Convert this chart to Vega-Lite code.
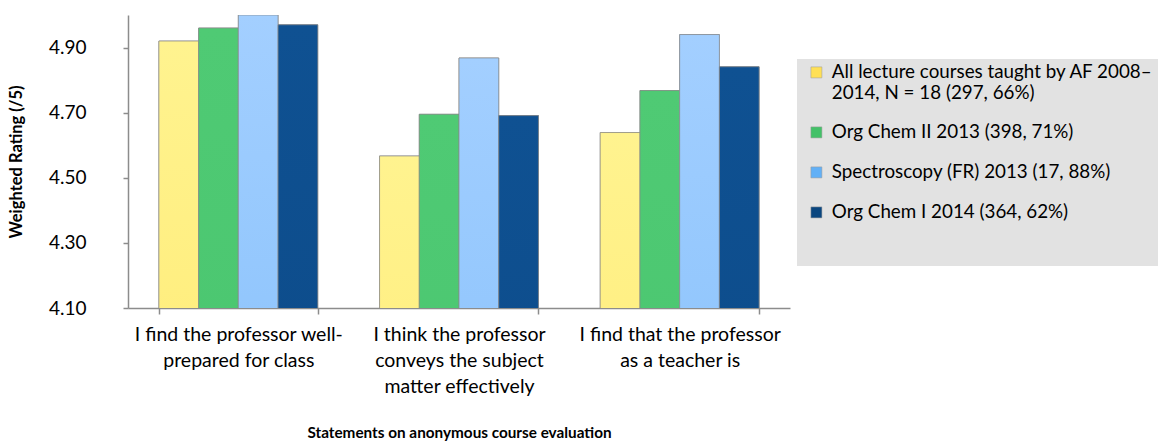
{
  "$schema": "https://vega.github.io/schema/vega-lite/v6.json",
  "autosize": "none",
  "width": 662,
  "height": 293,
  "padding": {"left": 128, "top": 15, "right": 371, "bottom": 136},
  "background": "white",
  "config": {
    "view": {"stroke": null},
    "font": "Lato"
  },
  "data": {
    "values": [
      {"statement": "I find the professor well-prepared for class", "course": "All lecture courses taught by AF 2008–2014, N = 18 (297, 66%)", "rating": 4.92},
      {"statement": "I find the professor well-prepared for class", "course": "Org Chem II 2013 (398, 71%)", "rating": 4.96},
      {"statement": "I find the professor well-prepared for class", "course": "Spectroscopy (FR) 2013 (17, 88%)", "rating": 5.00},
      {"statement": "I find the professor well-prepared for class", "course": "Org Chem I 2014 (364, 62%)", "rating": 4.97},
      {"statement": "I think the professor conveys the subject matter effectively", "course": "All lecture courses taught by AF 2008–2014, N = 18 (297, 66%)", "rating": 4.567},
      {"statement": "I think the professor conveys the subject matter effectively", "course": "Org Chem II 2013 (398, 71%)", "rating": 4.695},
      {"statement": "I think the professor conveys the subject matter effectively", "course": "Spectroscopy (FR) 2013 (17, 88%)", "rating": 4.868},
      {"statement": "I think the professor conveys the subject matter effectively", "course": "Org Chem I 2014 (364, 62%)", "rating": 4.691},
      {"statement": "I find that the professor as a teacher is", "course": "All lecture courses taught by AF 2008–2014, N = 18 (297, 66%)", "rating": 4.639},
      {"statement": "I find that the professor as a teacher is", "course": "Org Chem II 2013 (398, 71%)", "rating": 4.768},
      {"statement": "I find that the professor as a teacher is", "course": "Spectroscopy (FR) 2013 (17, 88%)", "rating": 4.94},
      {"statement": "I find that the professor as a teacher is", "course": "Org Chem I 2014 (364, 62%)", "rating": 4.841}
    ]
  },
  "encoding": {
    "x": {
      "field": "statement",
      "type": "nominal",
      "scale": {
        "domain": ["I find the professor well-prepared for class", "I think the professor conveys the subject matter effectively", "I find that the professor as a teacher is"],
        "paddingInner": 0.28,
        "paddingOuter": 0.14
      },
      "axis": {
        "title": "Statements on anonymous course evaluation",
        "titleFont": "Lato",
        "titleFontSize": 15.3,
        "titleFontWeight": "bold",
        "titleColor": "#000",
        "titlePadding": 30,
        "labelAngle": 0,
        "labelFont": "Lato",
        "labelFontSize": 19.5,
        "labelColor": "#000",
        "labelBaseline": "top",
        "labelLineHeight": 26,
        "labelPadding": 11,
        "labelLimit": 0,
        "labelExpr": "datum.value == 'I find the professor well-prepared for class' ? ['I find the professor well-', 'prepared for class'] : datum.value == 'I think the professor conveys the subject matter effectively' ? ['I think the professor', 'conveys the subject', 'matter effectively'] : datum.value == 'I find that the professor as a teacher is' ? ['I find that the professor', 'as a teacher is'] : ''",
        "domainColor": "#8c8c8c",
        "domainWidth": 1.5,
        "tickColor": "#8c8c8c",
        "tickWidth": 1.5,
        "tickSize": 6,
        "tickBand": "extent",
        "grid": false
      }
    },
    "xOffset": {
      "field": "course",
      "type": "nominal",
      "scale": {
        "domain": [
          "All lecture courses taught by AF 2008–2014, N = 18 (297, 66%)",
          "Org Chem II 2013 (398, 71%)",
          "Spectroscopy (FR) 2013 (17, 88%)",
          "Org Chem I 2014 (364, 62%)"
        ],
        "paddingInner": 0,
        "paddingOuter": 0
      }
    },
    "y": {
      "field": "rating",
      "type": "quantitative",
      "scale": {"domain": [4.1, 5.0], "nice": false, "zero": false},
      "axis": {
        "title": "Weighted Rating (/5)",
        "titleFont": "Lato",
        "titleFontSize": 16.5,
        "titleFontWeight": "bold",
        "titleColor": "#000",
        "titlePadding": 24,
        "values": [4.1, 4.3, 4.5, 4.7, 4.9],
        "format": ".2f",
        "labelFont": "Lato",
        "labelFontSize": 19,
        "labelColor": "#000",
        "labelPadding": 37,
        "domainColor": "#8c8c8c",
        "domainWidth": 1.5,
        "tickColor": "#8c8c8c",
        "tickWidth": 1.5,
        "tickSize": 5,
        "grid": false
      }
    }
  },
  "layer": [
    {
      "mark": {"type": "bar", "stroke": "#8a8a8a", "strokeWidth": 1, "strokeOpacity": 0.7, "clip": true},
      "encoding": {
        "color": {
          "field": "course",
          "type": "nominal",
          "scale": {
            "domain": [
              "All lecture courses taught by AF 2008–2014, N = 18 (297, 66%)",
              "Org Chem II 2013 (398, 71%)",
              "Spectroscopy (FR) 2013 (17, 88%)",
              "Org Chem I 2014 (364, 62%)"
            ],
            "range": ["#ffe055", "#43c168", "#62b0f6", "#0a467f"]
          },
          "legend": {
            "orient": "none",
            "legendX": 669,
            "legendY": 44,
            "title": " ",
            "titleOrient": "bottom",
            "titleFontSize": 10,
            "titlePadding": 30,
            "fillColor": "#e2e2e2",
            "strokeColor": null,
            "padding": 4,
            "symbolType": "square",
            "symbolSize": 121,
            "symbolOffset": 6,
            "symbolOpacity": 1,
            "symbolStrokeColor": "#9a9a9a",
            "symbolStrokeWidth": 0.5,
            "labelFont": "Lato",
            "labelFontSize": 18.8,
            "labelColor": "#000",
            "labelLineHeight": 20,
            "labelOffset": 6,
            "labelLimit": 0,
            "rowPadding": 20,
            "labelExpr": "datum.label == 'All lecture courses taught by AF 2008–2014, N = 18 (297, 66%)' ? ['All lecture courses taught by AF 2008–', '2014, N = 18 (297, 66%)'] : datum.label"
          }
        }
      }
    },
    {
      "transform": [{"filter": "datum.course == 'All lecture courses taught by AF 2008–2014, N = 18 (297, 66%)'"}],
      "mark": {
        "type": "bar", "clip": true, "stroke": "#8a8a8a", "strokeWidth": 1, "strokeOpacity": 0.7,
        "fill": {"gradient": "linear", "x1": 0, "y1": 0, "x2": 0, "y2": 1, "stops": [{"offset": 0, "color": "#fff38f"}, {"offset": 1, "color": "#ffd835"}]}
      }
    },
    {
      "transform": [{"filter": "datum.course == 'Org Chem II 2013 (398, 71%)'"}],
      "mark": {
        "type": "bar", "clip": true, "stroke": "#8a8a8a", "strokeWidth": 1, "strokeOpacity": 0.7,
        "fill": {"gradient": "linear", "x1": 0, "y1": 0, "x2": 0, "y2": 1, "stops": [{"offset": 0, "color": "#4fca74"}, {"offset": 1, "color": "#3ebb63"}]}
      }
    },
    {
      "transform": [{"filter": "datum.course == 'Spectroscopy (FR) 2013 (17, 88%)'"}],
      "mark": {
        "type": "bar", "clip": true, "stroke": "#8a8a8a", "strokeWidth": 1, "strokeOpacity": 0.7,
        "fill": {"gradient": "linear", "x1": 0, "y1": 0, "x2": 0, "y2": 1, "stops": [{"offset": 0, "color": "#a3cfff"}, {"offset": 1, "color": "#47a1f3"}]}
      }
    },
    {
      "transform": [{"filter": "datum.course == 'Org Chem I 2014 (364, 62%)'"}],
      "mark": {
        "type": "bar", "clip": true, "stroke": "#8a8a8a", "strokeWidth": 1, "strokeOpacity": 0.7,
        "fill": {"gradient": "linear", "x1": 0, "y1": 0, "x2": 0, "y2": 1, "stops": [{"offset": 0, "color": "#0f5192"}, {"offset": 1, "color": "#063c74"}]}
      }
    }
  ]
}
